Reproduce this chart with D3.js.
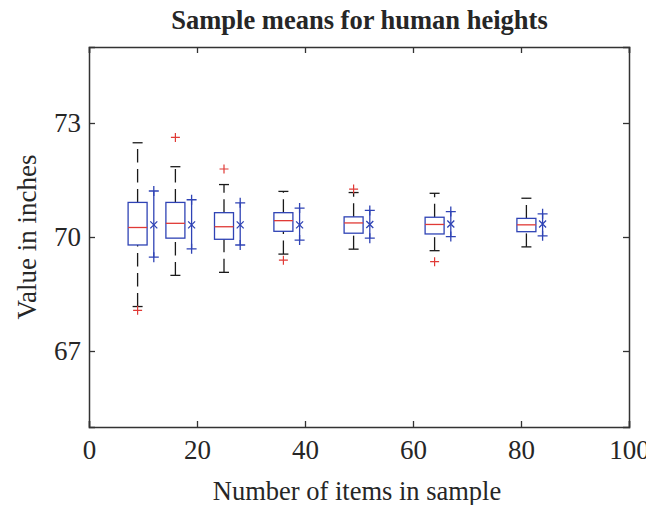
<!DOCTYPE html>
<html><head><meta charset="utf-8">
<script src="https://cdn.jsdelivr.net/npm/d3@7"></script>
<style>body{margin:0;background:#fff}svg{display:block}text{font-family:"Liberation Serif","Times New Roman",serif;fill:#262626}</style>
</head><body><svg id="c" width="646" height="505"></svg>
<script>
// Sample sizes (x positions)
const sampleSizes = [9, 16, 25, 36, 49, 64, 81];
// Box plot statistics
const upperWhisker = [72.48, 71.85, 71.38, 71.20, 71.17, 71.15, 71.02];
const q3 = [70.91, 70.91, 70.64, 70.64, 70.53, 70.52, 70.49];
const medians = [70.25, 70.36, 70.27, 70.43, 70.37, 70.33, 70.32];
const q1 = [69.79, 69.97, 69.94, 70.15, 70.10, 70.08, 70.14];
const lowerWhisker = [68.17, 68.99, 69.07, 69.55, 69.68, 69.64, 69.74];
const outliers = [[68.07], [72.62], [71.79], [69.39], [71.26], [69.35], []];
// Mean and error bar (mean ± std error), plotted offset to the right
const means = [70.32, 70.32, 70.32, 70.32, 70.33, 70.34, 70.34];
const errUpper = [71.21, 70.98, 70.90, 70.76, 70.70, 70.67, 70.61];
const errLower = [69.47, 69.69, 69.79, 69.92, 69.97, 70.01, 70.03];
const meanOffset = 3;
const xTicks = [0, 20, 40, 60, 80, 100];
const yTicks = [67, 70, 73];

const svg = d3.select("#c");
const L = 89, R = 629, T = 47, B = 427;
const x = d3.scaleLinear().domain([0, 100]).range([L, R]);
const y = d3.scaleLinear().domain([65, 75]).range([B, T]);

const blue = "#2f43b5", red = "#e03a36", black = "#1a1a1a";
const boxW = 19, capW = 10, plusS = 4.5, errPlus = 5, xS = 3.5;

const g = svg.append("g");
sampleSizes.forEach((n, i) => {
  const cx = x(n);
  g.append("line").attr("x1", cx).attr("x2", cx).attr("y1", y(q3[i])).attr("y2", y(upperWhisker[i]))
    .attr("stroke", black).attr("stroke-width", 1.3).attr("stroke-dasharray", "13.5,6.5");
  g.append("line").attr("x1", cx).attr("x2", cx).attr("y1", y(lowerWhisker[i])).attr("y2", y(q1[i]))
    .attr("stroke", black).attr("stroke-width", 1.3).attr("stroke-dasharray", "13.5,6.5");
  [upperWhisker[i], lowerWhisker[i]].forEach(v => {
    g.append("line").attr("x1", cx - capW / 2).attr("x2", cx + capW / 2).attr("y1", y(v)).attr("y2", y(v))
      .attr("stroke", black).attr("stroke-width", 1.3);
  });
  g.append("rect").attr("x", cx - boxW / 2).attr("y", y(q3[i])).attr("width", boxW)
    .attr("height", y(q1[i]) - y(q3[i])).attr("fill", "none").attr("stroke", blue).attr("stroke-width", 1.3);
  g.append("line").attr("x1", cx - boxW / 2).attr("x2", cx + boxW / 2).attr("y1", y(medians[i])).attr("y2", y(medians[i]))
    .attr("stroke", red).attr("stroke-width", 1.3);
  outliers[i].forEach(v => {
    const oy = y(v);
    g.append("path").attr("d", `M${cx - plusS},${oy}H${cx + plusS}M${cx},${oy - plusS}V${oy + plusS}`)
      .attr("stroke", red).attr("stroke-width", 1.2).attr("fill", "none");
  });
  const mx = x(n + meanOffset);
  g.append("line").attr("x1", mx).attr("x2", mx).attr("y1", y(errUpper[i])).attr("y2", y(errLower[i]))
    .attr("stroke", blue).attr("stroke-width", 1.3);
  [errUpper[i], errLower[i]].forEach(v => {
    const ey = y(v);
    g.append("path").attr("d", `M${mx - errPlus},${ey}H${mx + errPlus}M${mx},${ey - errPlus}V${ey + errPlus}`)
      .attr("stroke", blue).attr("stroke-width", 1.3).attr("fill", "none");
  });
  const my = y(means[i]);
  g.append("path").attr("d", `M${mx - xS},${my - xS}L${mx + xS},${my + xS}M${mx - xS},${my + xS}L${mx + xS},${my - xS}`)
    .attr("stroke", blue).attr("stroke-width", 1.3).attr("fill", "none");
});

const axCol = "#333";
const ax = svg.append("g");
ax.append("g").attr("transform", `translate(0,${B})`)
  .call(d3.axisBottom(x).tickValues(xTicks).tickSize(-6).tickPadding(13).tickFormat(d3.format("d")));
ax.append("g").attr("transform", `translate(0,${T})`)
  .call(d3.axisTop(x).tickValues(xTicks).tickSize(-6).tickFormat(""));
ax.append("g").attr("transform", `translate(${L},0)`)
  .call(d3.axisLeft(y).tickValues(yTicks).tickSize(-6).tickPadding(8).tickFormat(d3.format("d")));
ax.append("g").attr("transform", `translate(${R},0)`)
  .call(d3.axisRight(y).tickValues(yTicks).tickSize(-6).tickFormat(""));
ax.selectAll(".domain").attr("stroke", axCol).attr("stroke-width", 1.5);
ax.selectAll(".tick line").attr("stroke", axCol).attr("stroke-width", 1.3);
ax.selectAll(".tick text").attr("font-size", 27).attr("fill", "#262626")
  .style("font-family", '"Liberation Serif","Times New Roman",serif');

svg.append("text").attr("x", (L + R) / 2 + 0.5).attr("y", 29).attr("text-anchor", "middle")
  .attr("font-size", 26.5).attr("font-weight", "bold").text("Sample means for human heights");
svg.append("text").attr("x", (L + R) / 2 - 2).attr("y", 500).attr("text-anchor", "middle")
  .attr("font-size", 26.5).text("Number of items in sample");
svg.append("text").attr("transform", `translate(36,${(T + B) / 2}) rotate(-90)`).attr("text-anchor", "middle")
  .attr("font-size", 27).text("Value in inches");
</script></body></html>
